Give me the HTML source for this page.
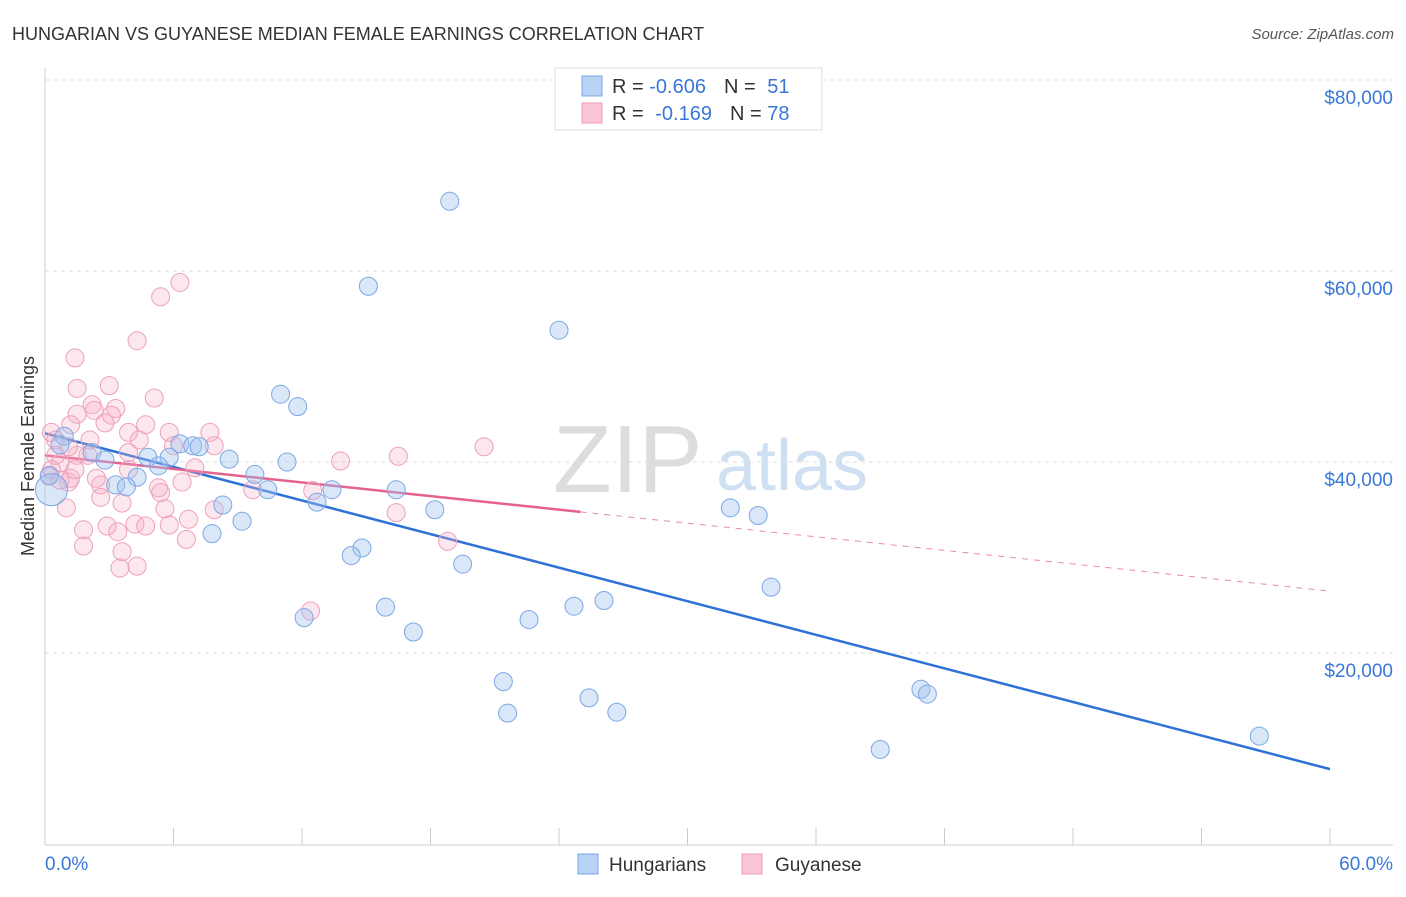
<!DOCTYPE html>
<html><head><meta charset="utf-8"><style>
body{margin:0;background:#fff;font-family:"Liberation Sans",sans-serif}
svg text{font-family:"Liberation Sans",sans-serif}
</style></head><body>
<svg id="c" width="1406" height="892">
<text x="12" y="40" font-size="18" fill="#333">HUNGARIAN VS GUYANESE MEDIAN FEMALE EARNINGS CORRELATION CHART</text>
<text x="1394" y="39" font-size="15" fill="#555" font-style="italic" text-anchor="end">Source: ZipAtlas.com</text>
<text x="0" y="0" transform="translate(34,456) rotate(-90)" font-size="18" fill="#333" text-anchor="middle">Median Female Earnings</text>
<text x="553" y="492" font-size="96" fill="#ddd" font-family="Liberation Serif">ZIP</text>
<text x="716" y="490" font-size="72" fill="#cfe0f3">atlas</text>
<g id="grid"></g><g id="axes"></g><g id="lines"></g><g id="pts"></g>
<g>
<rect x="555" y="68" width="267" height="62" fill="#fff" stroke="#ddd"/>
<rect x="582" y="76" width="20" height="20" fill="#b9d3f5" stroke="#7aa7e6"/>
<rect x="582" y="103" width="20" height="20" fill="#fbc6d6" stroke="#eb9ab5"/>
<text x="612" y="93" font-size="20" fill="#333">R = <tspan fill="#3a78d8">-0.606</tspan><tspan dx="18">N = </tspan><tspan fill="#3a78d8" dx="6">51</tspan></text>
<text x="612" y="120" font-size="20" fill="#333">R = <tspan fill="#3a78d8" dx="6">-0.169</tspan><tspan dx="18">N = </tspan><tspan fill="#3a78d8">78</tspan></text>
</g>
<g>
<rect x="578" y="854" width="20" height="20" fill="#b9d3f5" stroke="#7aa7e6"/>
<text x="609" y="871" font-size="19" fill="#333">Hungarians</text>
<rect x="742" y="854" width="20" height="20" fill="#fbc6d6" stroke="#eb9ab5"/>
<text x="775" y="871" font-size="19" fill="#333">Guyanese</text>
</g>
</svg>
<script>
const yTicks=[20000,40000,60000,80000];
const yTickLabels=["$20,000","$40,000","$60,000","$80,000"];
const xTickLabels=["0.0%","60.0%"];
const blueX=[18.9,15.1,24.0,11.0,11.8,0.9,2.2,6.3,6.9,7.2,4.8,5.8,8.6,2.8,5.3,11.3,9.8,4.3,3.3,3.8,10.4,13.4,16.4,12.7,8.3,18.2,32.0,33.3,9.2,7.8,14.8,14.3,19.5,33.9,26.1,24.7,15.9,12.1,22.6,17.2,21.4,40.9,41.2,25.4,21.6,26.7,39.0,56.7,0.2,0.7,0.3];
const blueY=[67300,58400,53800,47100,45800,42700,41000,41900,41700,41600,40500,40500,40300,40200,39600,40000,38700,38400,37600,37400,37100,37100,37100,35800,35500,35000,35200,34400,33800,32500,31000,30200,29300,26900,25500,24900,24800,23700,23500,22200,17000,16200,15700,15300,13700,13800,9900,11300,38600,41800,37100];
const pinkX=[6.3,5.4,4.3,1.4,1.5,3.0,5.1,2.2,2.3,3.3,1.5,3.1,4.7,2.8,1.2,0.3,5.8,3.9,7.7,2.1,4.4,7.9,20.5,6.0,1.5,3.9,16.5,13.8,0.7,7.0,3.9,2.4,1.2,0.2,1.1,6.4,2.6,5.3,9.7,12.5,5.4,2.6,3.6,1.0,5.6,7.9,16.4,6.7,4.2,2.9,5.8,4.7,1.8,3.4,6.6,18.8,1.8,3.6,3.5,4.3,12.4,0.5,0.5,0.3,0.7,1.4,2.0,1.1];
const pinkY=[58800,57300,52700,50900,47700,48000,46700,46000,45400,45600,45000,44900,43900,44100,43900,43100,43100,43100,43100,42300,42300,41700,41600,41700,40700,41000,40600,40100,39900,39400,39200,38300,38300,38500,37900,37900,37600,37300,37100,37000,36800,36300,35700,35200,35100,35000,34700,34000,33500,33300,33400,33300,32900,32700,31900,31700,31200,30600,28900,29100,24400,42300,40700,39200,38100,39200,40700,41600];
const blueTrend=[43000,-586];
const pinkTrend=[40700,-237];
const NS="http://www.w3.org/2000/svg";
const sx=v=>45+v/60*1285, sy=v=>844-v/20000*191;
function mk(p,tag,a){const e=document.createElementNS(NS,tag);for(const k in a)e.setAttribute(k,a[k]);document.getElementById(p).appendChild(e);return e;}
yTicks.forEach((t,i)=>{
 let l=mk('grid','line',{x1:45,x2:1393,y1:sy(t),y2:sy(t),stroke:'#ddd','stroke-dasharray':'4,4'});
 
 
 let tx=mk('grid','text',{x:1393,y:sy(t)+24,'font-size':19,fill:'#3a78d8','text-anchor':'end'});
 tx.textContent=yTickLabels[i];
 
 
});
let ax=mk('axes','line',{x1:45,x2:45,y1:68,y2:845,stroke:'#ccc'});


let bx=mk('axes','line',{x1:45,x2:1393,y1:845,y2:845,stroke:'#ccc'});


for(let i=0;i<=10;i++){let t=mk('axes','line',{x1:sx(i*6),x2:sx(i*6),y1:828,y2:845,stroke:'#ccc'});
 
 }
[[0,'start',45],[60,'end',1393]].forEach((d,i)=>{let t=mk('axes','text',{x:d[2],y:870,'font-size':19,fill:'#3a78d8','text-anchor':d[1]});t.textContent=xTickLabels[i];
 
 });
function pts(X,Y,fill,stroke,name){X.forEach((x,i)=>{let r=(x<0.5&&name==='hungarian-point'&&Y[i]<38000)?16:9;
 let c=mk('pts','circle',{cx:sx(x),cy:sy(Y[i]),r:r,fill:fill,stroke:stroke,'stroke-width':1});
 
 });}
pts(pinkX,pinkY,'rgba(248,175,198,0.3)','#eda0ba','guyanese-point');
pts(blueX,blueY,'rgba(160,195,240,0.4)','#7ca7e4','hungarian-point');
const f=(t,x)=>t[0]+t[1]*x;
let bl=mk('lines','line',{x1:sx(0),y1:sy(f(blueTrend,0)),x2:sx(60),y2:sy(f(blueTrend,60)),stroke:'#2f72d6','stroke-width':2.5});


let pl=mk('lines','line',{x1:sx(0),y1:sy(f(pinkTrend,0)),x2:sx(25),y2:sy(f(pinkTrend,25)),stroke:'#e5628f','stroke-width':2.5});


let pd=mk('lines','line',{x1:sx(25),y1:sy(f(pinkTrend,25)),x2:sx(60),y2:sy(f(pinkTrend,60)),stroke:'#e88aa8','stroke-width':1,'stroke-dasharray':'6,6'});


</script>
</body></html>
